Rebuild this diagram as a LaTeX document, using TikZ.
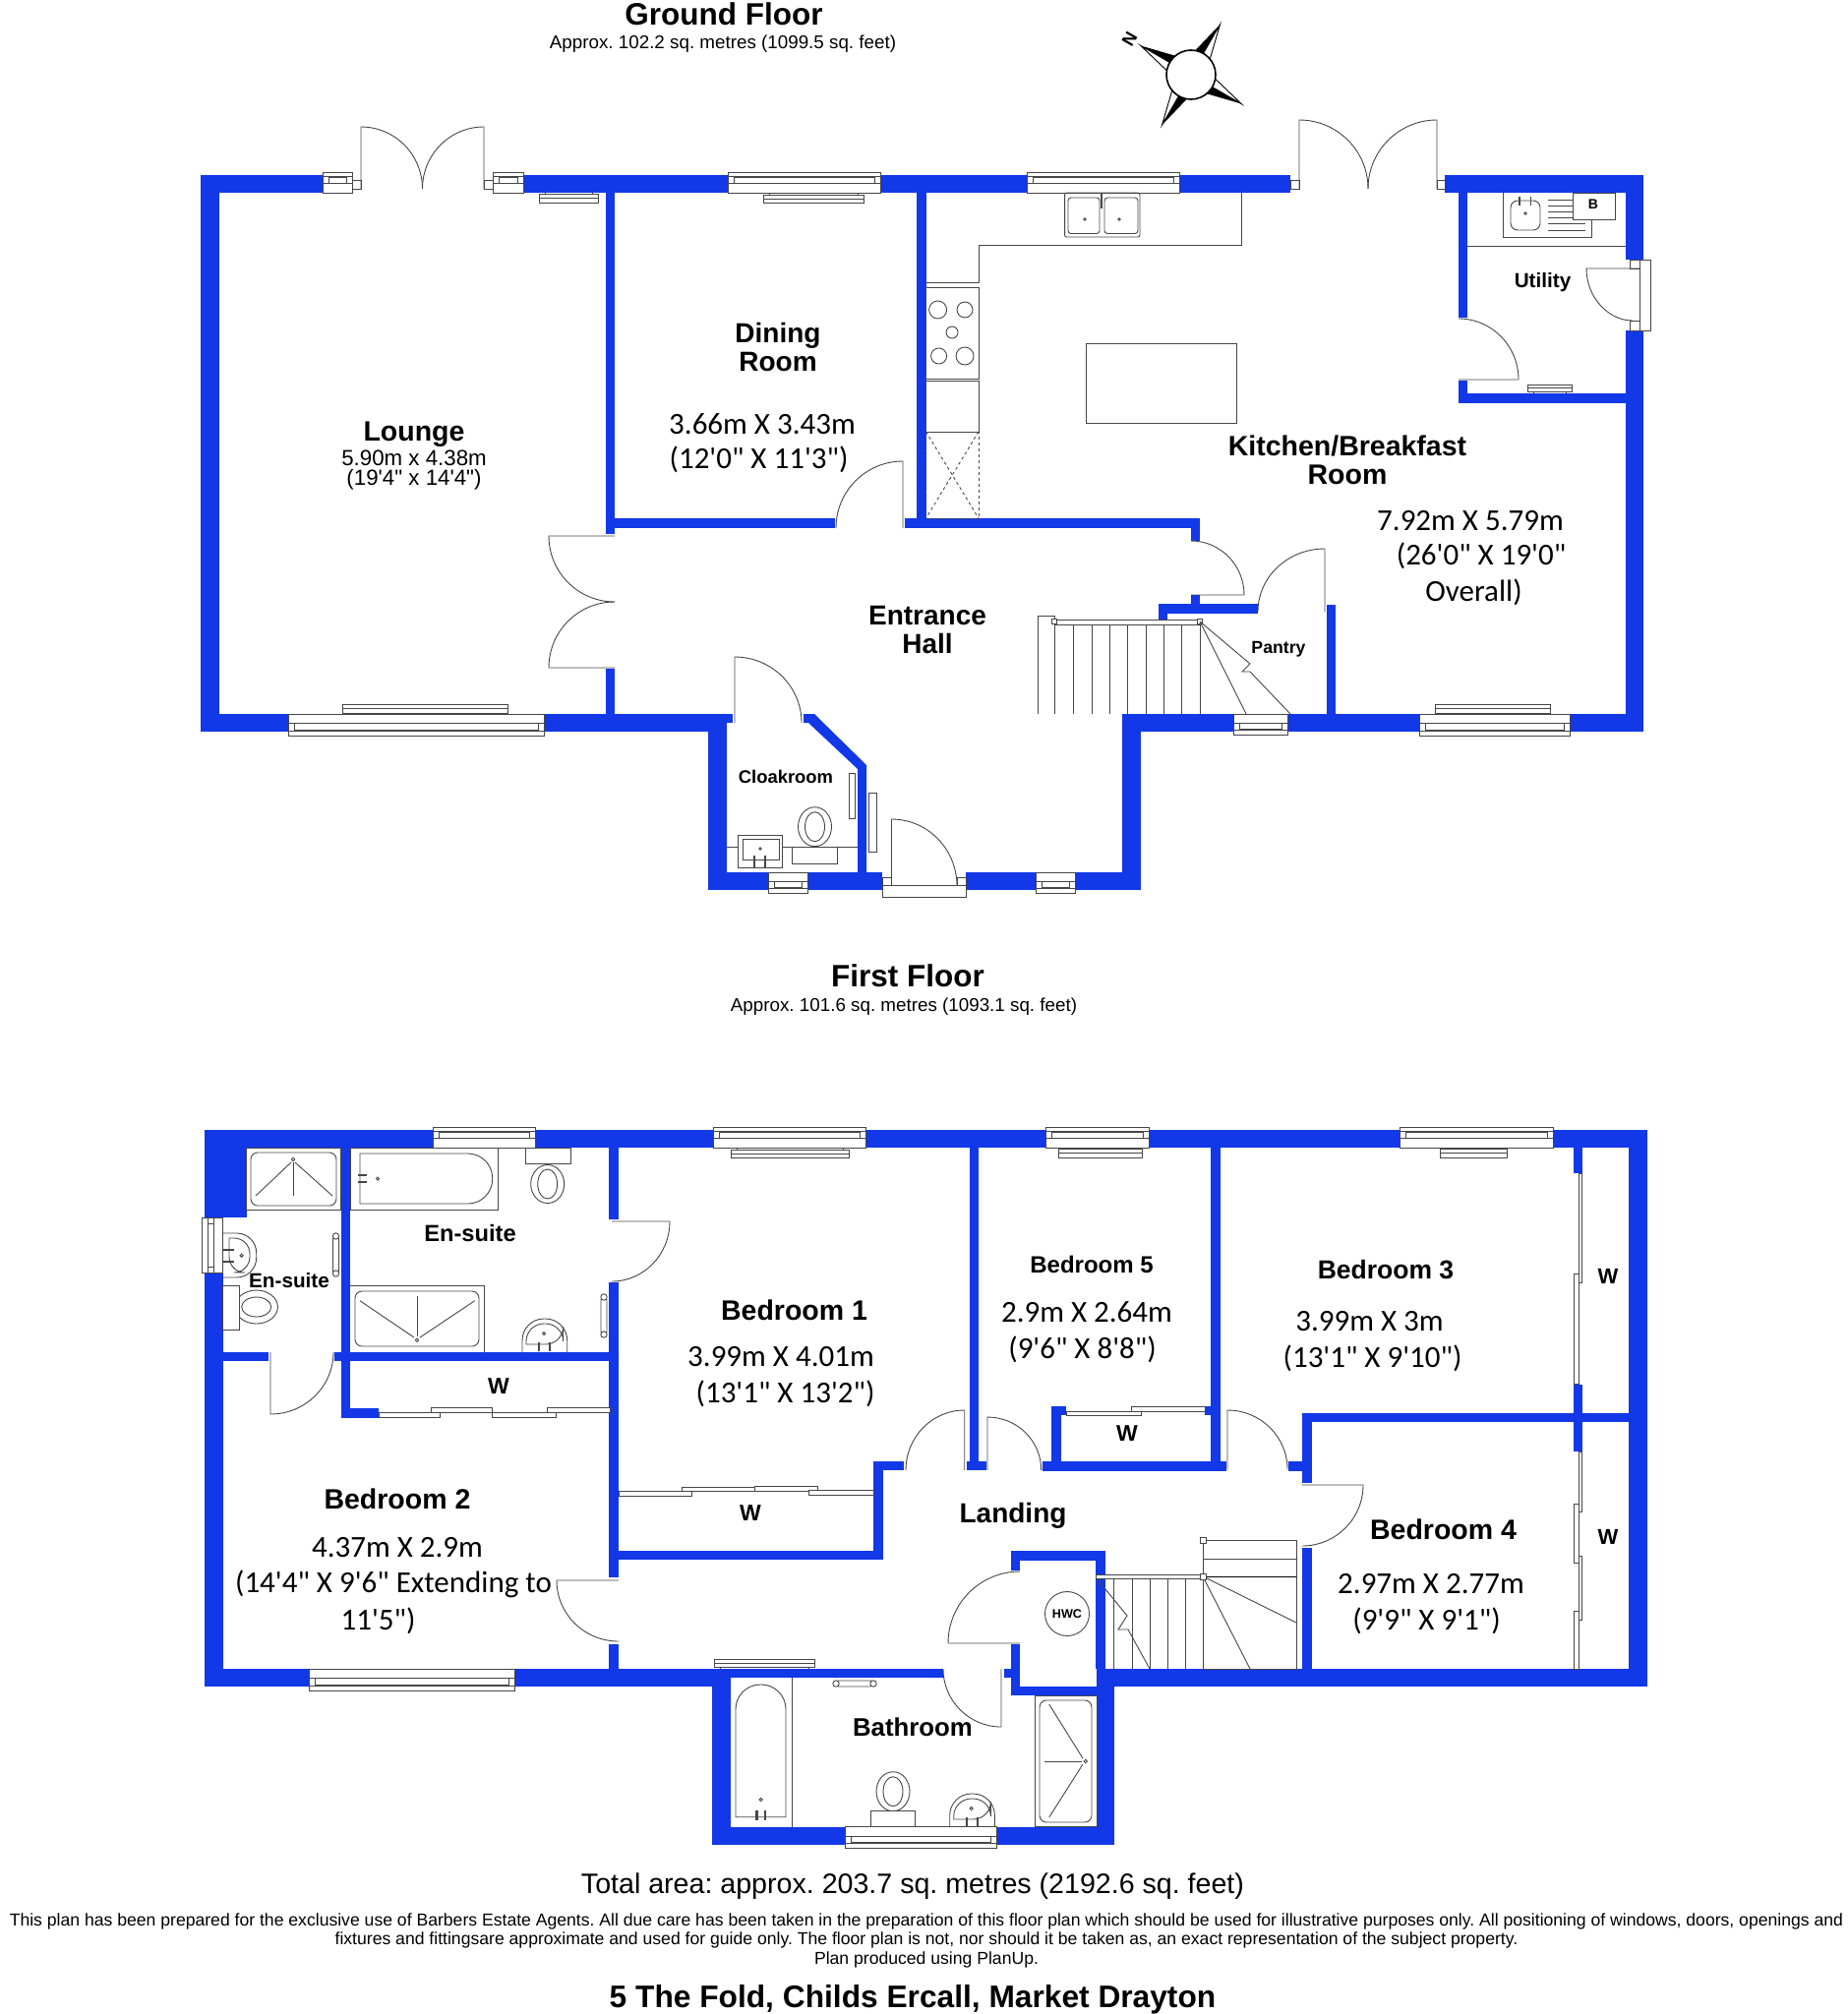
\documentclass[tikz,border=0pt]{standalone}
\usepackage{fontspec}
\setmainfont{Liberation Sans}
\newfontfamily\dimfont{Carlito}
\newfontfamily\plainfont{Liberation Sans}
\usetikzlibrary{calc}
\frenchspacing
\definecolor{wallblue}{RGB}{18,56,232}
\definecolor{linegray}{RGB}{70,70,70}
\tikzset{
    wall/.style={fill=wallblue},
    planline/.style={draw=linegray,line width=0.9pt},
    whitefit/.style={planline,fill=white},
    tapline/.style={draw=linegray,line width=2.4pt},
    blackfit/.style={fill=black},
    roomname/.style={font=\bfseries\fontsize{#1}{29}\selectfont,align=center,inner sep=0pt},
    roomname/.default=28,
    dimtext/.style={font=\dimfont\fontsize{31}{36}\selectfont,align=center,inner sep=0pt},
    plaintext/.style={font=\plainfont\fontsize{#1}{#1}\selectfont,align=center,inner sep=0pt}
}
\newcommand{\doorleaf}[3]{\draw[planline] (#1) -- (#2) .. controls ($(#2)+.5523*(#3)-.5523*(#1)$) and ($(#3)+.5523*(#2)-.5523*(#1)$) .. (#3);}
\newcommand{\windowh}[4]{%
    \pgfmathsetmacro\wina{#3+.2*(#4-#3)}%
    \pgfmathsetmacro\winb{#3+.25*(#4-#3)}%
    \pgfmathsetmacro\winc{#3+.55*(#4-#3)}%
    \draw[whitefit] (#1,#3) rectangle (#2,#4);
    \draw[planline] (#1,\wina) -- (#2,\wina);
    \draw[planline] (#1,\winc) -- (#2,\winc);
    \draw[planline] (#1+6,\winb) rectangle (#2-6,\winc);
}
\newcommand{\radiator}[5]{%
    \draw[planline] (#1+6,#3) -- (#1+6,#5);
    \draw[planline] (#2-6,#3) -- (#2-6,#5);
    \draw[whitefit] (#1,#3) rectangle (#2,#4);
    \draw[planline] (#1,#3/2+#4/2) -- (#2,#3/2+#4/2);
}
\newcommand{\basinup}[2]{%
    \begin{scope}[shift={(#1,#2)}]
        \draw[planline,rounded corners=22pt] (0,34) -- (0,0) -- (45.7,0) -- (45.7,34);
        \draw[planline] (4,26) {[rounded corners=18pt] -- (4,5) -- (41.7,5) -- (41.7,26)} -- cycle;
        \draw[planline] (22,15) circle (1.6pt);
        \draw[tapline] (17,24) -- (17,33);
        \draw[tapline] (28,24) -- (28,33);
    \end{scope}
}
\begin{document}
\begin{tikzpicture}[x=1pt,y=-1pt]
    \useasboundingbox (0,0) rectangle (1879,2048);
    \fill[wall] (204,177.5) rectangle (328,196);
    \fill[wall] (532,177.5) rectangle (1312,196);
    \fill[wall] (1469,177.5) rectangle (1671,196);
    \fill[wall] (204,177.5) rectangle (223,744);
    \fill[wall] (204,726) rectangle (745,735);
    \fill[wall] (204,735) rectangle (739,744);
    \fill[wall] (720,735) rectangle (739,905);
    \fill[wall] (720,887) rectangle (897,905);
    \fill[wall] (982,887) rectangle (1160,905);
    \fill[wall] (1141,726) rectangle (1160,905);
    \fill[wall] (1141,726) rectangle (1671,744);
    \fill[wall] (1653,177.5) rectangle (1671,264);
    \fill[wall] (1653,336) rectangle (1671,744);
    \fill[wall] (615.7,196) rectangle (625,543);
    \fill[wall] (615.7,680) rectangle (625,726);
    \fill[wall] (625,527) rectangle (849,537);
    \fill[wall] (932,196) rectangle (941.5,537);
    \fill[wall] (920,527) rectangle (1220,537);
    \fill[wall] (1211,537) rectangle (1220,550);
    \fill[wall] (1211,605) rectangle (1220,614);
    \fill[wall] (1178,614) rectangle (1279,624);
    \fill[wall] (1178,624) rectangle (1187,630);
    \fill[wall] (1349,615) rectangle (1358,726);
    \fill[wall] (1483,196) rectangle (1492,322.5);
    \fill[wall] (1483,387) rectangle (1492,410);
    \fill[wall] (1483,400) rectangle (1653,410);
    \fill[wall] (817,726) -- (828,726) -- (881,778) -- (881,887) -- (872,887) -- (872,782) -- (822,735) -- (817,735) -- cycle;

    \windowh{328}{358}{175}{196}
    \windowh{501}{532}{175}{196}
    \windowh{740}{895}{175}{196}
    \windowh{1044}{1199.5}{175}{196}
    \windowh{293}{553.5}{748}{726}
    \windowh{1254.5}{1309.6}{747}{726}
    \windowh{1443.6}{1596}{748}{726}
    \windowh{781.5}{821}{908}{887}
    \windowh{1053.5}{1093}{908}{887}
    \radiator{548.6}{608}{197.5}{206}{196}
    \radiator{776}{878}{198}{206}{196}
    \radiator{348}{516}{716}{725}{726}
    \radiator{1459}{1576}{716}{725}{726}
    \radiator{1553}{1598}{391}{398}{400}
    \draw[whitefit] (863.7,786) rectangle (869,832);
    \draw[whitefit] (883,806) rectangle (891,866);

    \draw[whitefit] (358,183) rectangle (367,192);
    \draw[whitefit] (492,183) rectangle (501,192);
    \doorleaf{367,192}{367,129}{429.5,192}
    \doorleaf{492,192}{492,129}{429.5,192}
    \draw[whitefit] (1312,183) rectangle (1321,192);
    \draw[whitefit] (1461,183) rectangle (1469,192);
    \doorleaf{1321,192}{1321,122}{1391,192}
    \doorleaf{1461,192}{1461,122}{1391,192}
    \doorleaf{918,537}{918,469}{850,537}
    \draw[planline] (625,545) -- (558,545) .. controls (558,582) and (588,612) .. (625,612);
    \draw[planline] (625,679) -- (558,679) .. controls (558,642) and (588,612) .. (625,612);
    \doorleaf{747,735}{747,668}{815,735}
    \doorleaf{906.5,901}{906.5,833}{973,901}
    \draw[whitefit] (897,900.7) rectangle (982,912);
    \draw[whitefit] (897,892) rectangle (906.5,900.7);
    \draw[whitefit] (973,892) rectangle (982,900.7);
    \doorleaf{1211,605}{1265,605}{1211,550}
    \doorleaf{1347,622}{1347,558}{1279,622}
    \doorleaf{1483,386}{1544,386}{1483,324}
    \draw[whitefit] (1667,264) rectangle (1678.5,336);
    \draw[whitefit] (1657,264) rectangle (1667,273);
    \draw[whitefit] (1657,326) rectangle (1667,336);
    \draw[planline] (1667,273) -- (1613,273) .. controls (1613,302) and (1635,326) .. (1660,326);

    \draw[planline] (1262,196) -- (1262,249) -- (995,249) -- (995,287.5) -- (941.5,287.5);
    \draw[whitefit] (941.5,292) rectangle (995,385);
    \foreach \x/\y/\r in {953.6/315/9,981/315/8,968/338/6,954.6/362/8,981/362/9}
        \draw[planline] (\x,\y) circle (\r pt);
    \draw[planline] (941.5,387.5) rectangle (995,439);
    \draw[planline,dashed] (941.5,439) rectangle (995,527);
    \draw[planline,dashed] (941.5,439) -- (995,527);
    \draw[planline,dashed] (995,439) -- (941.5,527);
    \draw[planline,rounded corners=2pt] (1082.6,196) rectangle (1159,241);
    \draw[planline,rounded corners=3pt] (1086,201) rectangle (1118,237.5);
    \draw[planline,rounded corners=3pt] (1123,201) rectangle (1157,237.5);
    \draw[planline] (1103,223) circle (1.3pt);
    \draw[planline] (1138,223) circle (1.3pt);
    \draw[tapline] (1120,197) -- (1120,212);
    \draw[planline] (1104,349) rectangle (1257.6,430);

    \draw[planline] (1492,250) -- (1653,250);
    \draw[planline] (1528.6,196) -- (1528.6,241) -- (1618,241) -- (1618,196);
    \draw[planline,rounded corners=7pt] (1536,204) rectangle (1566,234);
    \draw[planline] (1551,217) circle (1.3pt);
    \draw[tapline,line width=1.6pt] (1545,200) -- (1545,209);
    \draw[tapline,line width=1.6pt] (1556.6,200) -- (1556.6,209);
    \foreach \y in {203,209,215,221}
        \draw[planline] (1573.5,\y) -- (1599,\y);
    \foreach \y in {227.5,234}
        \draw[planline] (1573.5,\y) -- (1612,\y);
    \draw[whitefit] (1599,196) rectangle (1642,223);
    \node[roomname=14] (boiler) at (1620,208) {B};

    \draw[whitefit] (1055.5,726) -- (1055.5,626) -- (1072,626) -- (1072,726);
    \draw[whitefit] (1072,630) rectangle (1220,635);
    \foreach \x in {1091,1110,1128,1146,1165,1183,1201,1220}
        \draw[planline] (\x,635) -- (\x,726);
    \draw[whitefit] (1069.5,629.5) rectangle (1074.5,634.5);
    \draw[whitefit] (1217.5,629.5) rectangle (1222.5,634.5);
    \draw[planline] (1220,632) -- (1267,726);
    \draw[planline] (1220,632) -- (1271,675) -- (1263,683) -- (1271,683) -- (1312,726);

    \draw[planline] (739,861) -- (872,861);
    \draw[whitefit] (750,849) rectangle (795,882);
    \draw[planline] (755.5,853) rectangle (792,874);
    \draw[planline] (773,863) circle (1.2pt);
    \draw[tapline,line width=1.8pt] (767,870) -- (767,882);
    \draw[tapline,line width=1.8pt] (778,870) -- (778,882);
    \draw[whitefit] (828.5,840.7) ellipse (17pt and 20pt);
    \draw[planline] (828.5,840.7) ellipse (10pt and 15pt);
    \draw[whitefit] (805.5,861) rectangle (851,878);

    \foreach \a/\s in {-60/-1,30/1,120/-1,210/1}{
        \fill[blackfit] ($(1211,76)+(\a:59)$) -- ($(1211,76)+({\a+\s*22}:24)$) -- ($(1211,76)+(\a:24)$) -- cycle;
        \draw[planline,draw=black,fill=white] ($(1211,76)+(\a:59)$) -- ($(1211,76)+({\a-\s*22}:24)$) -- ($(1211,76)+(\a:24)$) -- cycle;
    }
    \draw[draw=black,line width=1.6pt,fill=white] (1211,76) circle (25pt);
    \node[roomname=18,rotate=60] (north) at (1148.5,40) {N};

    \node[roomname=31.5] (groundtitle) at (736,14) {Ground Floor};
    \node[plaintext=18.8] (groundarea) at (735,45) {Approx. 102.2 sq. metres (1099.5 sq. feet)};
    \node[roomname=28.5] (lounge) at (421,442) {Lounge};
    \node[plaintext=22.3] (loungedim) at (421,465.5) {5.90m x 4.38m};
    \node[plaintext=22.3] (loungeimp) at (421,488) {(19'4" x 14'4")};
    \node[roomname] (dining) at (791,353) {Dining\\Room};
    \node[dimtext] (diningdim) at (775,431.5) {3.66m X 3.43m};
    \node[dimtext] (diningimp) at (771.5,467) {(12'0" X 11'3")};
    \node[roomname=28.5] (kitchen) at (1370,468) {Kitchen/Breakfast\\Room};
    \node[dimtext] (kitchendim) at (1495,529.6) {7.92m X 5.79m};
    \node[dimtext] (kitchenimp) at (1506,565) {(26'0" X 19'0"};
    \node[dimtext] (kitchenall) at (1498.5,602) {Overall)};
    \node[roomname=20.7] (utility) at (1568.5,287) {Utility};
    \node[roomname] (hall) at (943,640.5) {Entrance\\Hall};
    \node[roomname=17.7] (pantry) at (1300,660) {Pantry};
    \node[roomname=18.4] (cloak) at (799,790) {Cloakroom};

    \node[roomname=31.5] (firsttitle) at (923,992.5) {First Floor};
    \node[plaintext=18.8] (firstarea) at (919,1023.5) {Approx. 101.6 sq. metres (1093.1 sq. feet)};

    \fill[wall] (208.3,1149) rectangle (1675,1167.3);
    \fill[wall] (208.3,1149) rectangle (226.7,1715);
    \fill[wall] (226.7,1167) rectangle (250.7,1238);
    \fill[wall] (1656,1149) rectangle (1675,1715);
    \fill[wall] (208.3,1697) rectangle (742.7,1715);
    \fill[wall] (742,1697) rectangle (959,1706);
    \fill[wall] (724,1697) rectangle (742.7,1875.7);
    \fill[wall] (724,1857.7) rectangle (1133,1875.7);
    \fill[wall] (1115,1697) rectangle (1133,1875.7);
    \fill[wall] (1114,1577) rectangle (1124,1697);
    \fill[wall] (1027.7,1577) rectangle (1124,1587);
    \fill[wall] (1027.7,1587) rectangle (1037,1597);
    \fill[wall] (1027.7,1672) rectangle (1037,1724);
    \fill[wall] (1027.7,1715) rectangle (1124,1724);
    \fill[wall] (1020.7,1697) rectangle (1028,1706);
    \fill[wall] (1115,1697) rectangle (1675,1715);
    \fill[wall] (346.7,1167) rectangle (356,1441.7);
    \fill[wall] (226.7,1375) rectangle (272.7,1384);
    \fill[wall] (340,1375) rectangle (346.7,1384);
    \fill[wall] (356,1375) rectangle (619,1384);
    \fill[wall] (346.7,1431.7) rectangle (385,1441.7);
    \fill[wall] (619,1167) rectangle (629,1240);
    \fill[wall] (619,1304) rectangle (629,1604);
    \fill[wall] (619,1671.7) rectangle (629,1697);
    \fill[wall] (629,1576.7) rectangle (897.7,1586);
    \fill[wall] (888,1485.7) rectangle (897.7,1586);
    \fill[wall] (888,1485.7) rectangle (919,1495);
    \fill[wall] (986,1167) rectangle (995.3,1495);
    \fill[wall] (982.7,1485.7) rectangle (1002.7,1495);
    \fill[wall] (1060,1486) rectangle (1247,1495.5);
    \fill[wall] (1069,1430) rectangle (1079,1486);
    \fill[wall] (1069,1430) rectangle (1084,1439);
    \fill[wall] (1225,1430) rectangle (1231,1439);
    \fill[wall] (1230.8,1167) rectangle (1241,1495);
    \fill[wall] (1323.7,1437) rectangle (1333.5,1508);
    \fill[wall] (1323.7,1437) rectangle (1656,1446);
    \fill[wall] (1310,1486) rectangle (1324,1495.5);
    \fill[wall] (1324,1574) rectangle (1333.5,1697);
    \fill[wall] (1600,1167) rectangle (1609.4,1193);
    \fill[wall] (1600,1407.5) rectangle (1609.4,1476);

    \windowh{440}{544}{1146}{1167}
    \windowh{725.7}{880}{1146}{1167}
    \windowh{1063}{1168}{1146}{1167}
    \windowh{1423}{1579}{1146}{1167}
    \windowh{314}{523}{1719}{1697}
    \windowh{859}{1013}{1879}{1857.7}
    \draw[whitefit] (205.7,1238) rectangle (226.7,1294);
    \draw[planline] (211,1238) -- (211,1294);
    \draw[planline] (211,1244) rectangle (217,1288);
    \draw[planline] (217,1238) -- (217,1294);
    \radiator{743}{863}{1169}{1177}{1167}
    \radiator{1076}{1161}{1168}{1177}{1167}
    \radiator{1464}{1532}{1168}{1177}{1167}
    \radiator{726.7}{828}{1687}{1695}{1697}

    \draw[whitefit] (385,1436) rectangle (447,1441);
    \draw[whitefit] (438,1431.7) rectangle (500,1436);
    \draw[whitefit] (500,1436) rectangle (565,1441);
    \draw[whitefit] (556,1431.7) rectangle (620,1436);
    \draw[whitefit] (629,1516.7) rectangle (703,1521.7);
    \draw[whitefit] (693,1512) rectangle (767,1516.7);
    \draw[whitefit] (767,1511.7) rectangle (831.7,1516);
    \draw[whitefit] (822.7,1515.7) rectangle (888,1520.7);
    \draw[whitefit] (1084,1435) rectangle (1160,1439);
    \draw[whitefit] (1150,1430) rectangle (1225,1435);
    \draw[whitefit] (1605,1193) rectangle (1608.5,1304);
    \draw[whitefit] (1600,1295) rectangle (1605,1407.5);
    \draw[whitefit] (1605,1476) rectangle (1608.5,1537.6);
    \draw[whitefit] (1600,1529) rectangle (1605,1589);
    \draw[whitefit] (1605,1582) rectangle (1608.5,1647);
    \draw[whitefit] (1600,1638) rectangle (1605,1697);

    \doorleaf{275,1375}{275,1438}{339,1375}
    \doorleaf{622,1242}{681,1242}{622,1303}
    \doorleaf{629,1607}{566,1607}{629,1669}
    \doorleaf{980.7,1495}{980.7,1434}{921,1495}
    \doorleaf{1004,1495}{1004,1441}{1058.7,1495}
    \doorleaf{1248,1494}{1248,1434}{1309,1494}
    \doorleaf{1324,1510}{1386,1510}{1324,1572}
    \doorleaf{1037,1671}{964,1671}{1037,1598}
    \doorleaf{1018,1697}{1018,1756}{959,1697}

    \draw[planline] (250.7,1167) rectangle (346.7,1230);
    \draw[planline,rounded corners=7pt] (255,1172) rectangle (342,1226);
    \draw[planline] (298,1179) circle (1.8pt);
    \draw[planline] (296,1182) -- (260,1216);
    \draw[planline] (298,1182) -- (298,1216);
    \draw[planline] (300,1182) -- (338,1216);
    \draw[planline] (356,1167) rectangle (506.7,1230);
    \draw[planline] (366,1173) {[rounded corners=25pt] -- (500.7,1173) -- (500.7,1224)} -- (366,1224) -- cycle;
    \draw[tapline] (364,1195) -- (373,1195);
    \draw[tapline] (364,1202) -- (373,1202);
    \draw[planline] (384,1198.5) circle (1.6pt);
    \draw[whitefit] (556.7,1204) ellipse (17pt and 19.5pt);
    \draw[planline] (556.7,1204) ellipse (10pt and 15pt);
    \draw[whitefit] (534,1167) rectangle (580,1183);
    \draw[planline] (356,1307) -- (492.7,1307) -- (492.7,1375);
    \draw[planline,rounded corners=7pt] (361,1313) rectangle (487,1369);
    \draw[planline] (424,1362.7) circle (1.8pt);
    \draw[planline] (366,1322.7) -- (421,1360);
    \draw[planline] (424,1317.7) -- (424,1359);
    \draw[planline] (482.7,1322.7) -- (427,1360);
    \basinup{531}{1341}
    \draw[whitefit,rounded corners=2pt] (611,1320) rectangle (617,1356);
    \draw[whitefit] (614,1319) circle (3.2pt);
    \draw[whitefit] (614,1357) circle (3.2pt);
    \draw[whitefit,rounded corners=2pt] (338.5,1258) rectangle (344.5,1294);
    \draw[whitefit] (341.5,1257) circle (3.2pt);
    \draw[whitefit] (341.5,1295) circle (3.2pt);
    \draw[planline,rounded corners=20pt] (226.7,1254) -- (260.7,1254) -- (260.7,1299) -- (226.7,1299);
    \draw[planline] (233,1259) {[rounded corners=16pt] -- (254,1259) -- (254,1294) -- (233,1294)} -- cycle;
    \draw[planline] (245.7,1276.7) circle (1.6pt);
    \draw[tapline,line width=1.8pt] (227,1271) -- (238,1271);
    \draw[tapline,line width=1.8pt] (227,1283) -- (238,1283);
    \draw[whitefit] (260.7,1329) ellipse (21.7pt and 17pt);
    \draw[planline] (260.7,1329) ellipse (15pt and 10pt);
    \draw[whitefit] (226.7,1307) rectangle (243,1352);

    \draw[whitefit] (1223,1566) rectangle (1318,1697);
    \draw[planline] (1223,1585) -- (1318,1585);
    \draw[draw=black,line width=0.9pt] (1223,1603) -- (1318,1603);
    \draw[whitefit] (1114,1601) rectangle (1223,1605);
    \foreach \x in {1132,1151,1169,1187,1205,1223}
        \draw[planline] (\x,1605) -- (\x,1697);
    \draw[planline] (1223,1603) -- (1318,1650);
    \draw[planline] (1223,1603) -- (1271,1697);
    \draw[planline] (1115,1605) -- (1146,1643) -- (1137,1657) -- (1147,1657) -- (1169,1697);
    \draw[whitefit] (1220.5,1563) rectangle (1226,1569);
    \draw[whitefit] (1220.5,1600) rectangle (1226,1606);
    \draw[planline] (1085,1641) circle (22.5pt);
    \node[roomname=12.6] (hwc) at (1085,1641) {HWC};

    \draw[planline] (805,1706) -- (805,1857.7);
    \draw[planline] (748,1847.7) {[rounded corners=25pt] -- (748,1713) -- (799,1713)} -- (799,1847.7) -- cycle;
    \draw[planline] (773.7,1830) circle (1.6pt);
    \draw[tapline] (769.3,1841) -- (769.3,1851);
    \draw[tapline] (777.7,1841) -- (777.7,1851);
    \draw[whitefit,rounded corners=2pt] (851,1709) rectangle (887,1715);
    \draw[whitefit] (850,1712) circle (3.2pt);
    \draw[whitefit] (888,1712) circle (3.2pt);
    \draw[whitefit] (908,1821.7) ellipse (17pt and 20pt);
    \draw[planline] (908,1821.7) ellipse (10pt and 15pt);
    \draw[whitefit] (885,1841.7) rectangle (930.7,1857.7);
    \basinup{965.7}{1824}
    \draw[planline] (1052,1724) rectangle (1115,1857.7);
    \draw[planline,rounded corners=7pt] (1057,1729) rectangle (1110,1853);
    \draw[planline] (1103.7,1791) circle (1.8pt);
    \draw[planline] (1066.7,1733) -- (1101,1788);
    \draw[planline] (1061.7,1791) -- (1100,1791);
    \draw[planline] (1066.7,1848) -- (1101,1794);

    \node[roomname=23.7] (ensuitea) at (478,1254) {En-suite};
    \node[roomname=20.7] (ensuiteb) at (294,1301.7) {En-suite};
    \node[roomname=23] (wardrobea) at (507,1410) {W};
    \node[roomname=28.5] (bedone) at (807.5,1332.5) {Bedroom 1};
    \node[dimtext] (bedonedim) at (794,1380) {3.99m X 4.01m};
    \node[dimtext] (bedoneimp) at (798.5,1417) {(13'1" X 13'2")};
    \node[roomname=23] (wardrobeb) at (763,1539) {W};
    \node[roomname=28.5] (bedtwo) at (404,1524.5) {Bedroom 2};
    \node[dimtext] (bedtwodim) at (404,1573.5) {4.37m X 2.9m};
    \node[dimtext] (bedtwoimp) at (400,1611) {(14'4" X 9'6" Extending to};
    \node[dimtext] (bedtwoext) at (384.5,1648) {11'5")};
    \node[roomname=24] (bedfive) at (1110,1286) {Bedroom 5};
    \node[dimtext] (bedfivedim) at (1105,1334.5) {2.9m X 2.64m};
    \node[dimtext] (bedfiveimp) at (1100.5,1372) {(9'6" X 8'8")};
    \node[roomname=23] (wardrobec) at (1146,1458) {W};
    \node[roomname=26.5] (bedthree) at (1409,1291) {Bedroom 3};
    \node[dimtext] (bedthreedim) at (1392.5,1344) {3.99m X 3m};
    \node[dimtext] (bedthreeimp) at (1395.5,1381) {(13'1" X 9'10")};
    \node[roomname=22] (wardrobed) at (1635,1297.6) {W};
    \node[roomname=28.5] (bedfour) at (1467.5,1555) {Bedroom 4};
    \node[dimtext] (bedfourdim) at (1455,1610.5) {2.97m X 2.77m};
    \node[dimtext] (bedfourimp) at (1450.5,1648) {(9'9" X 9'1")};
    \node[roomname=22] (wardrobee) at (1635,1563) {W};
    \node[roomname] (landing) at (1030,1541.5) {Landing};
    \node[roomname=25.8] (bathroom) at (928,1756.5) {Bathroom};

    \node[plaintext=28.6] (totalarea) at (928,1918) {Total area: approx. 203.7 sq. metres (2192.6 sq. feet)};
    \node[plaintext=17.6] (notea) at (942,1953.6) {This plan has been prepared for the exclusive use of Barbers Estate Agents. All due care has been taken in the preparation of this floor plan which should be used for illustrative purposes only. All positioning of windows, doors, openings and};
    \node[plaintext=17.6] (noteb) at (942,1973) {fixtures and fittingsare approximate and used for guide only. The floor plan is not, nor should it be taken as, an exact representation of the subject property.};
    \node[plaintext=17.6] (notec) at (942,1993) {Plan produced using PlanUp.};
    \node[roomname=31.7] (address) at (928,2033) {5 The Fold, Childs Ercall, Market Drayton};
\end{tikzpicture}
\end{document}
